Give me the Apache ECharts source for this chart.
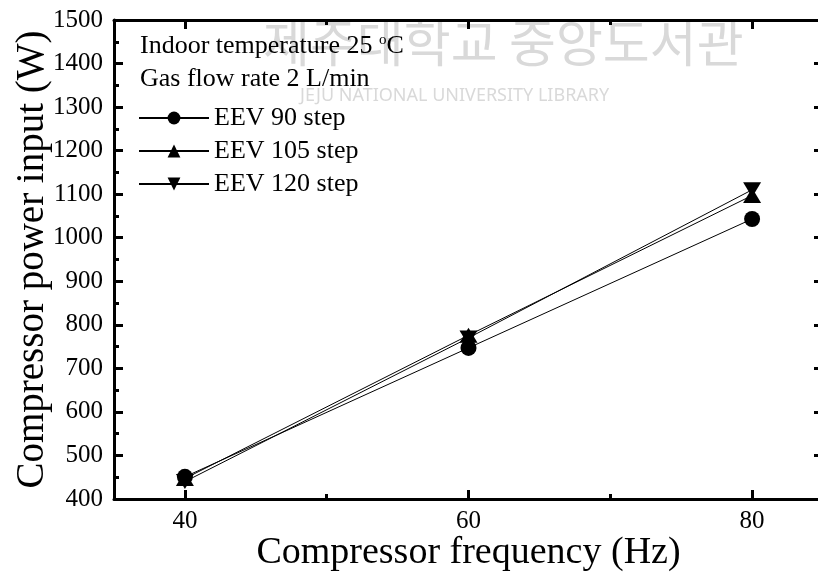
<!DOCTYPE html>
<html><head><meta charset="utf-8">
<script src="https://cdn.jsdelivr.net/npm/echarts@6/dist/echarts.min.js"></script>
<style>html,body{margin:0;padding:0;background:#fff}#c{width:818px;height:572px}</style>
</head><body><div id="c"></div>
<script>
const frequency = [40, 60, 80];
const eev90 = [451, 747, 1043];
const eev105 = [447, 776, 1097];
const eev120 = [440, 770, 1110];
const seriesNames = ['EEV 90 step', 'EEV 105 step', 'EEV 120 step'];
const xMajorTicks = [40, 60, 80];
const xMinorTicks = [50, 70];
const yMin = 400, yMax = 1500, yStep = 100;
const xMin = 35, xMax = 85;
const noteLines = ['Indoor temperature 25 {sup|o}C', 'Gas flow rate 2 L/min'];

const FONT = '"Liberation Serif", "Times New Roman", serif';
const chart = echarts.init(document.getElementById('c'), null, {renderer: 'canvas'});

function pairs(ys){ return frequency.map((x,i)=>[x, ys[i]]); }

const xBase = {type:'value', min:xMin, max:xMax, gridIndex:0, splitLine:{show:false}};
const option = {
  animation:false,
  backgroundColor:'#fff',
  grid:{left:114, top:20, width:709, height:479, containLabel:false, outerBoundsMode:'none'},
  xAxis:[
    Object.assign({}, xBase, {position:'bottom',
      name:'Compressor frequency (Hz)', nameLocation:'middle', nameGap:35, nameMoveOverlap:false,
      nameTextStyle:{fontFamily:FONT, fontSize:38, color:'#000'},
      axisLine:{show:true, onZero:false, lineStyle:{color:'#000', width:3}},
      axisTick:{show:true, inside:true, length:9, lineStyle:{color:'#000', width:3}, customValues:xMajorTicks},
      axisLabel:{show:true, margin:10, fontFamily:FONT, fontSize:25, color:'#000', customValues:xMajorTicks}}),
    Object.assign({}, xBase, {position:'bottom',
      axisLine:{show:false, onZero:false},
      axisTick:{show:true, inside:true, length:5, lineStyle:{color:'#000', width:3}, customValues:xMinorTicks},
      axisLabel:{show:false}}),
    Object.assign({}, xBase, {position:'top',
      axisLine:{show:true, onZero:false, lineStyle:{color:'#000', width:3}},
      axisTick:{show:true, inside:true, length:9, lineStyle:{color:'#000', width:3}, customValues:xMajorTicks},
      axisLabel:{show:false}}),
    Object.assign({}, xBase, {position:'top',
      axisLine:{show:false, onZero:false},
      axisTick:{show:true, inside:true, length:5, lineStyle:{color:'#000', width:3}, customValues:xMinorTicks},
      axisLabel:{show:false}})
  ],
  yAxis:[
    {type:'value', min:yMin, max:yMax, interval:yStep, position:'left',
     name:'Compressor power input (W)', nameLocation:'middle', nameGap:62, nameMoveOverlap:false,
     nameTextStyle:{fontFamily:FONT, fontSize:39, color:'#000'},
     splitLine:{show:false},
     axisLine:{show:true, onZero:false, lineStyle:{color:'#000', width:3}},
     axisTick:{show:true, inside:true, length:9, lineStyle:{color:'#000', width:3}},
     minorTick:{show:true, splitNumber:2, length:5, lineStyle:{color:'#000', width:3}},
     axisLabel:{margin:11, fontFamily:FONT, fontSize:25, color:'#000', formatter:(v)=>String(v)}},
    {type:'value', min:yMin, max:yMax, interval:yStep, position:'right',
     splitLine:{show:false},
     axisLine:{show:true, onZero:false, lineStyle:{color:'#000', width:3}},
     axisTick:{show:true, inside:true, length:9, lineStyle:{color:'#000', width:3}},
     minorTick:{show:true, splitNumber:2, length:5, lineStyle:{color:'#000', width:3}},
     axisLabel:{show:false}}
  ],
  legend:{
    orient:'vertical', left:138, top:105, padding:0, itemWidth:70, itemHeight:16, itemGap:7,
    textStyle:{fontFamily:FONT, fontSize:26, color:'#000'},
    data:seriesNames
  },
  graphic:[
    {type:'text', left:263, top:17, z:0, silent:true,
     style:{text:'제주대학교 중앙도서관', fontFamily:'"Noto Sans CJK KR"', fontSize:51, fill:'#d9d9d9'}},
    {type:'text', left:300, top:87, z:0, silent:true,
     style:{text:'JEJU NATIONAL UNIVERSITY LIBRARY', fontFamily:'"Noto Sans", sans-serif', fontSize:18, fill:'#d9d9d9'}},
    {type:'text', left:140, top:33, z:10,
     style:{text:noteLines[0], fontFamily:FONT, fontSize:26, fill:'#000',
       rich:{sup:{fontFamily:FONT, fontSize:15, verticalAlign:'top', padding:[0,0,11,0], fill:'#000'}}}},
    {type:'text', left:140, top:66, z:10,
     style:{text:noteLines[1], fontFamily:FONT, fontSize:26, fill:'#000'}}
  ],
  series:[
    {name:seriesNames[0], type:'line', xAxisIndex:0, yAxisIndex:0, data:pairs(eev90),
     symbol:'circle', symbolSize:16, itemStyle:{color:'#000'}, lineStyle:{color:'#000', width:1}},
    {name:seriesNames[1], type:'line', xAxisIndex:0, yAxisIndex:0, data:pairs(eev105),
     symbol:'triangle', symbolSize:[18,15], itemStyle:{color:'#000'}, lineStyle:{color:'#000', width:1}},
    {name:seriesNames[2], type:'line', xAxisIndex:0, yAxisIndex:0, data:pairs(eev120),
     symbol:'triangle', symbolRotate:180, symbolSize:[18,15], itemStyle:{color:'#000'}, lineStyle:{color:'#000', width:1}}
  ]
};
chart.setOption(option);
</script></body></html>
